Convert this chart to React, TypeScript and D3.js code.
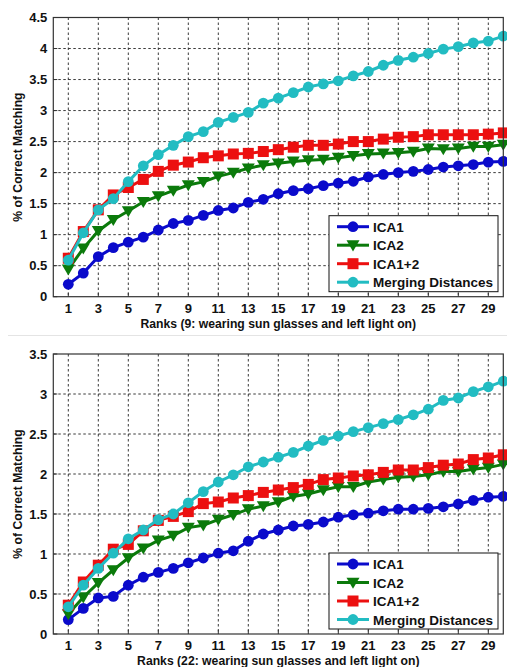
import * as d3 from "d3";

// ranks 1..30
const ranks = d3.range(1, 31);
const xTicks = d3.range(1, 30, 2);
const seriesNames = ["ICA1", "ICA2", "ICA1+2", "Merging Distances"];

// panel 1 (9: wearing sun glasses and left light on)
const top_ica1 = [0.2, 0.38, 0.645, 0.79, 0.88, 0.96, 1.075, 1.18, 1.23, 1.31, 1.39, 1.43, 1.52, 1.57, 1.66, 1.71, 1.74, 1.79, 1.83, 1.86, 1.93, 1.97, 2.0, 2.02, 2.05, 2.09, 2.11, 2.13, 2.17, 2.18];
const top_ica2 = [0.44, 0.78, 1.06, 1.24, 1.38, 1.53, 1.62, 1.71, 1.8, 1.85, 1.94, 2.0, 2.07, 2.12, 2.15, 2.18, 2.2, 2.21, 2.24, 2.27, 2.3, 2.31, 2.32, 2.34, 2.39, 2.38, 2.39, 2.42, 2.42, 2.45];
const top_ica12 = [0.62, 1.05, 1.4, 1.64, 1.76, 1.89, 2.02, 2.12, 2.17, 2.24, 2.27, 2.3, 2.31, 2.34, 2.37, 2.41, 2.44, 2.44, 2.46, 2.5, 2.5, 2.54, 2.57, 2.58, 2.61, 2.61, 2.61, 2.61, 2.62, 2.64];
const top_merge = [0.59, 1.03, 1.4, 1.58, 1.855, 2.11, 2.29, 2.44, 2.58, 2.66, 2.81, 2.89, 2.97, 3.12, 3.2, 3.29, 3.38, 3.43, 3.48, 3.56, 3.63, 3.73, 3.81, 3.86, 3.92, 3.99, 4.03, 4.09, 4.12, 4.2];

// panel 2 (22: wearing sun glasses and left light on)
const bot_ica1 = [0.18, 0.32, 0.45, 0.47, 0.61, 0.71, 0.77, 0.82, 0.89, 0.95, 1.01, 1.04, 1.16, 1.25, 1.3, 1.35, 1.37, 1.4, 1.46, 1.49, 1.51, 1.54, 1.56, 1.56, 1.57, 1.59, 1.625, 1.67, 1.71, 1.72];
const bot_ica2 = [0.25, 0.46, 0.64, 0.8, 0.95, 1.07, 1.17, 1.23, 1.33, 1.36, 1.43, 1.49, 1.56, 1.6, 1.65, 1.72, 1.75, 1.8, 1.84, 1.84, 1.9, 1.93, 1.96, 1.97, 1.99, 2.03, 2.03, 2.06, 2.08, 2.12];
const bot_ica12 = [0.36, 0.65, 0.86, 1.06, 1.12, 1.29, 1.42, 1.47, 1.53, 1.63, 1.65, 1.7, 1.73, 1.77, 1.8, 1.83, 1.87, 1.93, 1.95, 1.975, 1.99, 2.02, 2.05, 2.05, 2.08, 2.11, 2.125, 2.18, 2.2, 2.24];
const bot_merge = [0.34, 0.61, 0.82, 1.01, 1.19, 1.3, 1.43, 1.5, 1.64, 1.78, 1.9, 1.99, 2.09, 2.15, 2.21, 2.27, 2.35, 2.42, 2.475, 2.53, 2.58, 2.63, 2.68, 2.74, 2.81, 2.92, 2.95, 3.03, 3.09, 3.16];

const colors = ["#0a0acb", "#0b7a0b", "#ec1010", "#22bcc2"];
const shapes = ["circle", "triangle", "square", "circle"];
const FONT = "'Liberation Sans', Arial, sans-serif";

function Marker({ shape, x, y, color }: { shape: string; x: number; y: number; color: string }) {
	if (shape === "square") {
		return <rect x={x - 5.5} y={y - 5.5} width={11} height={11} fill={color} />;
	}
	if (shape === "triangle") {
		const s = 6.5;
		return <path d={`M${x - s},${y - s * 0.75}L${x + s},${y - s * 0.75}L${x},${y + s * 0.95}Z`} fill={color} />;
	}
	return <circle cx={x} cy={y} r={5.4} fill={color} />;
}

function Panel({ series, yMax, yTop, yBottom, label }: { series: number[][]; yMax: number; yTop: number; yBottom: number; label: string }) {
	const x = d3.scaleLinear().domain([0, 30]).range([53.3, 503.3]);
	const y = d3.scaleLinear().domain([0, yMax]).range([yBottom, yTop]);
	const yTicks = d3.range(0, yMax + 0.001, 0.5);
	const line = d3
		.line<number>()
		.x((d, i) => x(ranks[i]))
		.y((d) => y(d));

	// legend geometry
	const lgRight = 498;
	const lgW = 169;
	const lgH = 76;
	const lgBottom = yBottom - 5;
	const lgLeft = lgRight - lgW;
	const lgTop = lgBottom - lgH;

	return (
		<g>
			{/* grid */}
			{xTicks.map((t) => (
				<line key={"gx" + t} x1={x(t)} x2={x(t)} y1={yTop} y2={yBottom} stroke="#222" strokeWidth={0.9} strokeDasharray="2.5,2.5" />
			))}
			{yTicks.slice(1, -1).map((t) => (
				<line key={"gy" + t} x1={x(0)} x2={x(30)} y1={y(t)} y2={y(t)} stroke="#222" strokeWidth={0.9} strokeDasharray="2.5,2.5" />
			))}
			{/* series */}
			{series.map((vals, si) => (
				<g key={"s" + si}>
					<path d={line(vals) || ""} fill="none" stroke={colors[si]} strokeWidth={3} />
					{vals.map((v, i) => (
						<Marker key={i} shape={shapes[si]} x={x(ranks[i])} y={y(v)} color={colors[si]} />
					))}
				</g>
			))}
			{/* frame */}
			<rect x={x(0)} y={yTop} width={x(30) - x(0)} height={yBottom - yTop} fill="none" stroke="#333" strokeWidth={1.2} />
			{xTicks.map((t) => (
				<g key={"tx" + t}>
					<line x1={x(t)} x2={x(t)} y1={yBottom} y2={yBottom - 4} stroke="#333" />
					<text x={x(t)} y={yBottom + 16} textAnchor="middle" fontFamily={FONT} fontWeight="bold" fontSize={13} fill="#111">
						{t}
					</text>
				</g>
			))}
			{yTicks.map((t) => (
				<g key={"ty" + t}>
					<line x1={x(0)} x2={x(0) + 4} y1={y(t)} y2={y(t)} stroke="#333" />
					<text x={x(0) - 6} y={y(t) + 4.5} textAnchor="end" fontFamily={FONT} fontWeight="bold" fontSize={13} fill="#111">
						{d3.format("~g")(t)}
					</text>
				</g>
			))}
			<text x={(x(0) + x(30)) / 2} y={yBottom + 31} textAnchor="middle" fontFamily={FONT} fontWeight="bold" fontSize={12.2} fill="#111">
				{label}
			</text>
			<text
				transform={`translate(22,${(yTop + yBottom) / 2}) rotate(-90)`}
				textAnchor="middle"
				fontFamily={FONT}
				fontWeight="bold"
				fontSize={12.2}
				fill="#111"
			>
				% of Correct Matching
			</text>
			{/* legend */}
			<rect x={lgLeft} y={lgTop} width={lgW} height={lgH} fill="#fff" stroke="#111" strokeWidth={1} />
			{seriesNames.map((n, i) => {
				const ly = lgTop + 11 + i * 18.5;
				return (
					<g key={"lg" + n}>
						<line x1={lgLeft + 8} x2={lgLeft + 40} y1={ly} y2={ly} stroke={colors[i]} strokeWidth={3} />
						<Marker shape={shapes[i]} x={lgLeft + 24} y={ly} color={colors[i]} />
						<text x={lgLeft + 44} y={ly + 5} fontFamily={FONT} fontWeight="bold" fontSize={13.5} fill="#111">
							{n}
						</text>
					</g>
				);
			})}
		</g>
	);
}

export default function App() {
	return (
		<svg width={507} height={667} style={{ position: "absolute", left: 0, top: 0, background: "#fff" }}>
			<rect x={0} y={0} width={507} height={667} fill="#fff" />
			<Panel
				series={[top_ica1, top_ica2, top_ica12, top_merge]}
				yMax={4.5}
				yTop={17.5}
				yBottom={296.7}
				label="Ranks (9: wearing sun glasses and left light on)"
			/>
			<line x1={8} x2={507} y1={335.5} y2={335.5} stroke="#e4e4e4" strokeWidth={1} />
			<Panel
				series={[bot_ica1, bot_ica2, bot_ica12, bot_merge]}
				yMax={3.5}
				yTop={354}
				yBottom={634}
				label="Ranks (22: wearing sun glasses and left light on)"
			/>
		</svg>
	);
}
